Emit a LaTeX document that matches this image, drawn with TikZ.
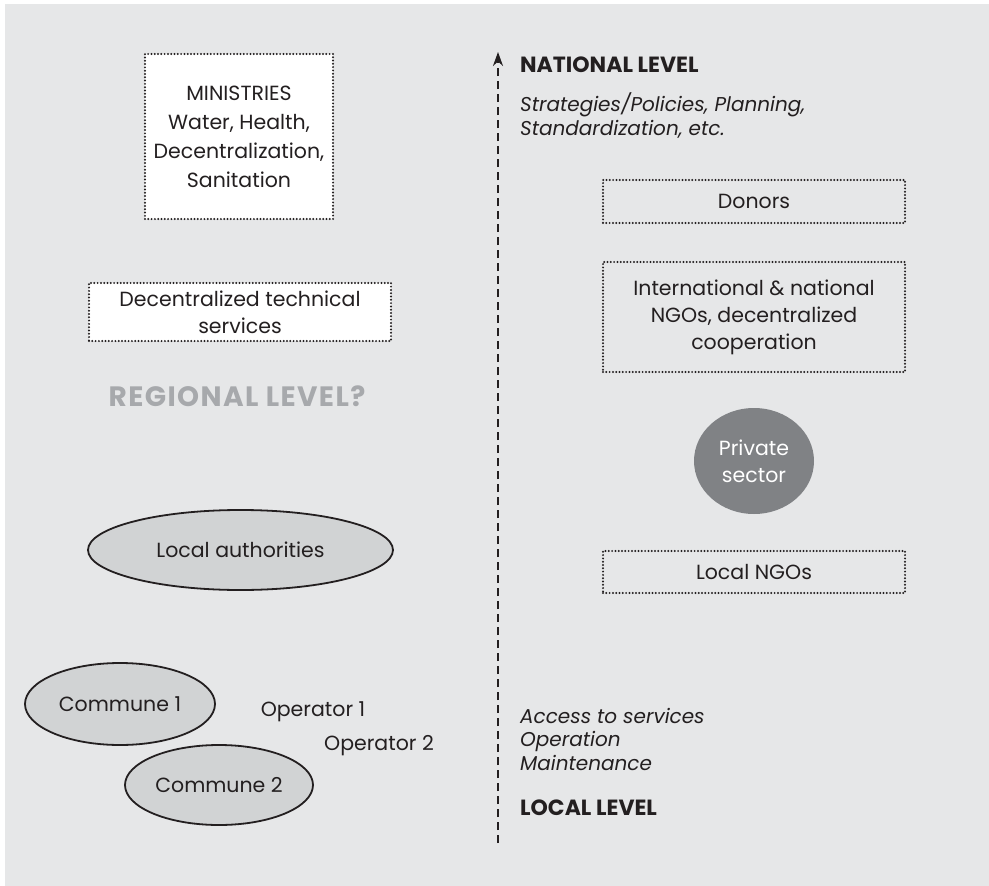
\documentclass[tikz,border=0pt]{standalone}
\usepackage{fontspec}
\setmainfont{Poppins}
\usetikzlibrary{arrows.meta,shapes.geometric}

\definecolor{bggray}{HTML}{E6E7E8}
\definecolor{ellgray}{HTML}{D1D3D4}
\definecolor{secgray}{HTML}{808285}
\definecolor{reggray}{HTML}{A7A9AC}
\definecolor{ink}{HTML}{231F20}

\begin{document}
\begin{tikzpicture}[line cap=round,line join=round,x=1pt,y=-1pt,
  every node/.style={text=ink,font=\fontsize{20.5}{27}\selectfont},
  dotbox/.style={draw=ink,line width=2.2pt,dash pattern=on 0pt off 3.3pt,align=center,inner sep=0pt},
  blob/.style={ellipse,draw=ink,line width=1.8pt,fill=ellgray,inner sep=0pt},
  levelhead/.style={anchor=base west,inner sep=0pt,font=\fontsize{22}{26}\selectfont\bfseries},
  levelnote/.style={anchor=base west,inner sep=0pt,align=left,font=\fontsize{20}{23.5}\selectfont\itshape}]

\def\ax{498} %axis position
\def\rx{520} %right text column
\def\bw{302} %box width on the right

%background
\useasboundingbox (0,0) rectangle (989,886);
\fill[white] (0,0) rectangle (989,886);
\fill[bggray] (5,4) rectangle (989,886);

%left column
\node[dotbox,fill=white,minimum width=188pt,minimum height=165pt,
  font=\fontsize{20.5}{29}\selectfont] (minist) at (239,136.5)
  {MINISTRIES\\Water, Health,\\Decentralization,\\Sanitation};
\node[dotbox,fill=white,minimum width=\bw pt,minimum height=58pt] (dts) at (240,312)
  {Decentralized technical\\services};
\node[text=reggray,font=\fontsize{28}{32}\selectfont\bfseries\addfontfeature{LetterSpace=5}] (regional) at (237,396) {REGIONAL LEVEL?};
\node[blob,minimum width=305pt,minimum height=80pt] (localauth) at (240.5,550) {Local authorities};
\node[blob,minimum width=190pt,minimum height=82pt] (commune1) at (120,704) {Commune 1};
\node[blob,minimum width=188pt,minimum height=80pt] (commune2) at (219,785) {Commune 2};
\node (op1) at (313,712) {Operator 1};
\node (op2) at (379,746) {Operator 2};

%level axis
\coordinate (axlow) at (\ax,843);
\coordinate (axtop) at (\ax,52);
\draw[ink,line width=2pt,line cap=butt,dash pattern=on 8pt off 5pt,
  -{Stealth[length=14pt,width=10pt]}] (axlow) -- (axtop);

%right column
\node[levelhead] (national) at (\rx,72) {NATIONAL LEVEL};
\node[levelnote] (strat) at (\rx,135) {Strategies/Policies, Planning,\\Standardization, etc.};
\node[dotbox,minimum width=\bw pt,minimum height=43pt] (donors) at (754,201.5) {Donors};
\node[dotbox,minimum width=\bw pt,minimum height=110pt] (ngos) at (754,317)
  {International \& national\\NGOs, decentralized\\cooperation};
\node[ellipse,fill=secgray,text=white,minimum width=120pt,minimum height=106pt,
  align=center,inner sep=0pt] (private) at (754,461) {Private\\sector};
\node[dotbox,minimum width=\bw pt,minimum height=42pt] (localngos) at (754,572) {Local NGOs};
\node[levelnote] (access) at (\rx,770) {Access to services\\Operation\\Maintenance};
\node[levelhead] (local) at (\rx,815) {LOCAL LEVEL};

\end{tikzpicture}
\end{document}
